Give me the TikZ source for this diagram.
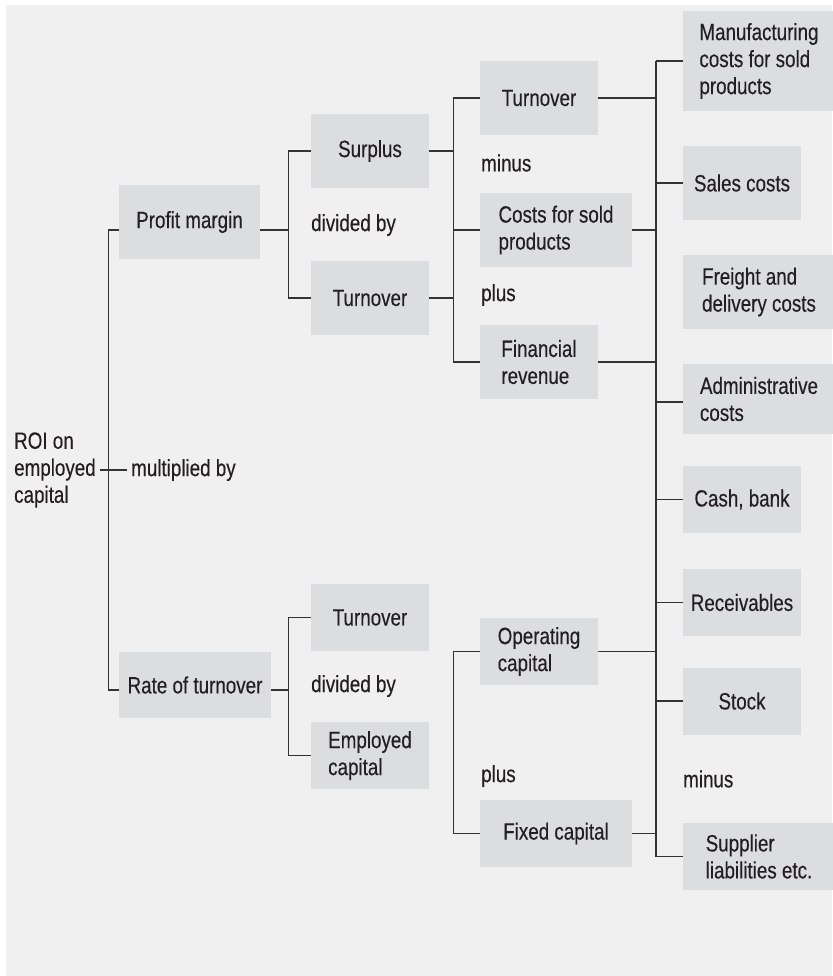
\documentclass[tikz,border=0pt]{standalone}
\usepackage{xcolor}
\usepackage{fontspec}
\setmainfont[FakeStretch=0.8, FakeBold=0.3]{Liberation Sans}
\usepackage{tikz}
\usetikzlibrary{positioning,calc}

\definecolor{bggray}{HTML}{F0F0F0}
\definecolor{boxgray}{HTML}{DCDDDF}
\definecolor{inkgray}{HTML}{231F20}
\definecolor{linegray}{HTML}{333333}

\begin{document}
\begin{tikzpicture}[x=1pt, y=-1pt,
    every node/.style={font=\fontsize{23.5}{27}\selectfont, text=inkgray},
    item/.style={fill=boxgray, inner sep=0pt, align=left, minimum height=74pt, minimum width=118pt},
    wide/.style={item, minimum width=152pt},
    op/.style={inner sep=0pt, anchor=west},
    link/.style={draw=linegray, line width=1.2pt}]

    \useasboundingbox (0,0) rectangle (832,976);
    \fill[bggray] (6,5) rectangle (832,976);

    % Root
    \node[op, align=left] (roi) at (14,470) {ROI on\\employed\\capital};
    \node[op] (mult) at (131,470) {multiplied by};
    \draw[link] ([xshift=4pt]roi.east) -- ([xshift=-4pt]mult.west);

    % Profit margin branch
    \node[item, minimum width=141pt] (pm) at (189.5,222) {Profit margin};
    \node[item] (surplus) at (370,151) {Surplus};
    \node[item] (turnA) at (370,298) {Turnover};
    \node[op] (divA) at (311,225) {divided by};

    \node[item] (turnC) at (539,98) {Turnover};
    \node[wide] (costs) at (556,230) {Costs for sold\\products};
    \node[item] (finrev) at (539,362) {Financial\\revenue};
    \node[op] (minA) at (481,163) {minus};
    \node[op] (plusA) at (481,295) {plus};

    % Rate of turnover branch
    \node[wide, minimum height=66pt] (rot) at (195,685) {Rate of turnover};
    \node[item, minimum height=67pt] (turnB) at (370,617.5) {Turnover};
    \node[item, minimum height=67pt] (empcap) at (370,755.5) {Employed\\capital};
    \node[op] (divB) at (311,686) {divided by};

    \node[item, minimum height=67pt] (opcap) at (539,651.5) {Operating\\capital};
    \node[wide, minimum height=67pt] (fixcap) at (556,833.5) {Fixed capital};
    \node[op] (plusB) at (481,776) {plus};

    % Right column
    \node[wide, minimum height=100pt] (mfg) at (759,61) {Manufacturing\\costs for sold\\products};
    \node[item] (sales) at (742,183) {Sales costs};
    \node[wide] (freight) at (759,292) {Freight and\\delivery costs};
    \node[wide, minimum height=70pt] (admin) at (759,399) {Administrative\\costs};
    \node[item, minimum height=67pt] (cash) at (742,499.5) {Cash, bank};
    \node[item, minimum height=67pt] (recv) at (742,602.5) {Receivables};
    \node[item, minimum height=67pt] (stock) at (742,701) {Stock};
    \node[op] (minB) at (683,779) {minus};
    \node[wide, minimum height=67pt] (supp) at (759,856.5) {Supplier\\liabilities etc.};

    % Brackets
    \draw[link] ([yshift=-8pt]pm.west) -- ++(-10,0) |- ([yshift=-5pt]rot.west);
    \draw[link] ([yshift=-8pt]pm.east) -- ++(29,0);
    \draw[link] (surplus.west) -- ++(-22,0) |- (turnA.west);
    \draw[link] (surplus.east) -- ++(25,0);
    \draw[link] (turnA.east) -- ++(25,0);
    \draw[link] (turnC.west) -- ++(-26,0) |- (finrev.west);
    \draw[link] (costs.west) -- ++(-26,0);

    \draw[link] ([yshift=-5pt]rot.east) -- ++(18,0);
    \draw[link] (turnB.west) -- ++(-22,0) |- (empcap.west);
    \draw[link] (opcap.west) -- ++(-26,0) |- (fixcap.west);

    % Bus to the right column
    \coordinate (bus) at (656,0);
    \draw[link] (mfg.west -| bus) -- (supp.west -| bus);
    \draw[link] (turnC.east) -- (turnC.east -| bus);
    \draw[link] (costs.east) -- (costs.east -| bus);
    \draw[link] (finrev.east) -- (finrev.east -| bus);
    \draw[link] (opcap.east) -- (opcap.east -| bus);
    \draw[link] (fixcap.east) -- (fixcap.east -| bus);
    \draw[link] (mfg.west) -- (mfg.west -| bus);
    \draw[link] (sales.west) -- (sales.west -| bus);
    \draw[link] ([yshift=-3pt]admin.west) -- ([yshift=-3pt]admin.west -| bus);
    \draw[link] (cash.west) -- (cash.west -| bus);
    \draw[link] (recv.west) -- (recv.west -| bus);
    \draw[link] (stock.west) -- (stock.west -| bus);
    \draw[link] (supp.west) -- (supp.west -| bus);
\end{tikzpicture}
\end{document}
